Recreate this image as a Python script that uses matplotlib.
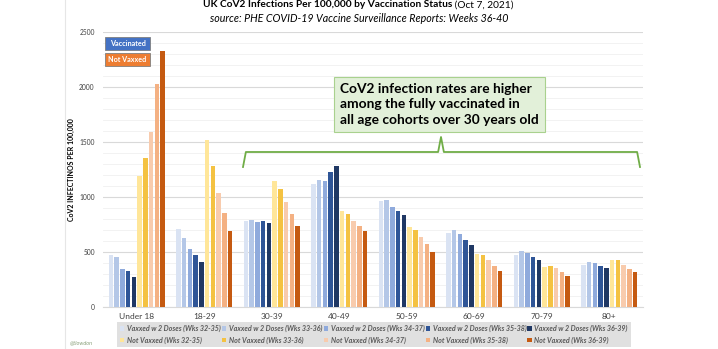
import numpy as np
import matplotlib.pyplot as plt
from matplotlib.patches import Rectangle
from matplotlib.lines import Line2D

# ---- data ----
ages = ["Under 18", "18-29", "30-39", "40-49", "50-59", "60-69", "70-79", "80+"]

vax_32_35 = [473, 712, 779, 1118, 962, 676, 479, 388]
vax_33_36 = [458, 630, 794, 1157, 973, 697, 512, 412]
vax_34_37 = [348, 530, 776, 1148, 912, 664, 494, 403]
vax_35_38 = [330, 473, 782, 1227, 871, 612, 458, 379]
vax_36_39 = [279, 409, 764, 1282, 838, 564, 427, 355]

unvax_32_35 = [1191, 1518, 1143, 878, 727, 485, 367, 430]
unvax_33_36 = [1358, 1282, 1073, 851, 700, 479, 373, 427]
unvax_34_37 = [1588, 1036, 952, 784, 635, 430, 358, 385]
unvax_35_38 = [2027, 858, 851, 739, 573, 376, 318, 351]
unvax_36_39 = [2321, 688, 739, 691, 502, 333, 282, 318]

vax_labels = ["Vaxxed w 2 Doses (Wks 32-35)", "Vaxxed w 2 Doses (Wks 33-36)",
              "Vaxxed w 2 Doses (Wks 34-37)", "Vaxxed w 2 Doses (Wks 35-38)",
              "Vaxxed w 2 Doses (Wks 36-39)"]
unvax_labels = ["Not Vaxxed (Wks 32-35)", "Not Vaxxed (Wks 33-36)",
                "Not Vaxxed (Wks 34-37)", "Not Vaxxed (Wks 35-38)",
                "Not Vaxxed (Wks 36-39)"]

vax_colors = ["#dae3f3", "#b4c7e7", "#8faadc", "#2f5597", "#203864"]
unvax_colors = ["#ffe699", "#f4c242", "#f8cbad", "#f4b183", "#c55a11"]

series = [vax_32_35, vax_33_36, vax_34_37, vax_35_38, vax_36_39,
          unvax_32_35, unvax_33_36, unvax_34_37, unvax_35_38, unvax_36_39]
labels = vax_labels + unvax_labels
colors = vax_colors + unvax_colors

plt.rcParams['font.family'] = ['Lato', 'DejaVu Sans']

fig = plt.figure(figsize=(7.18, 3.49), dpi=100)
ax = fig.add_axes([0.1435, 0.1195, 0.752, 0.7895])

x = np.arange(len(ages))
slot = 0.085
bw = 0.066
handles = []
for i, (vals, lab, col) in enumerate(zip(series, labels, colors)):
    off = (i - 4.5) * slot
    b = ax.bar(x + off, vals, width=bw, color=col, label=lab, zorder=3)
    handles.append(b)

ax.set_xlim(-0.5, len(ages) - 0.5)
ax.set_ylim(0, 2500)
ax.set_yticks(np.arange(0, 2501, 500))
ax.set_yticks(np.arange(0, 2501, 100), minor=True)
ax.grid(axis='y', which='major', color='#d9d9d9', lw=0.8, zorder=0)
ax.grid(axis='y', which='minor', color='#f0f0f0', lw=0.6, zorder=0)
ax.set_xticks(x)
ax.set_xticklabels(ages, fontsize=6, color='#404040')
ax.tick_params(axis='y', which='both', length=0, labelsize=4.8, labelcolor='#404040', pad=6)
ax.tick_params(axis='x', length=0, pad=4)
for s in ['top', 'right', 'left']:
    ax.spines[s].set_visible(False)
ax.spines['bottom'].set_color('#d9d9d9')
ax.set_ylabel("CoV2 INFECTINOS PER 100,000", fontsize=5, fontweight='bold', labelpad=3)

# titles (bold part + plain part)
fig.text(452 / 718, 0.986, "UK CoV2 Infections Per 100,000 by Vaccination Status",
         ha='right', va='center', fontsize=7.3, fontweight='bold')
fig.text(452 / 718, 0.986, " (Oct 7, 2021)", ha='left', va='center', fontsize=7.3)
fig.text(359 / 718, 0.948, "source: PHE COVID-19 Vaccine Surveillance Reports: Weeks 36-40",
         ha='center', va='center', fontsize=7.7, style='italic')

# colour key boxes top-left
for y0, txt, col in [(0.857, "Vaccinated", "#4472c4"), (0.812, "Not Vaxxed", "#ed7d31")]:
    fig.patches.append(Rectangle((0.1465, y0), 0.0625, 0.037, transform=fig.transFigure,
                                 facecolor=col, edgecolor='#7f7f7f', lw=0.6))
    fig.text(0.1777, y0 + 0.0185, txt, ha='center', va='center', fontsize=5.2,
             color='white', fontweight='bold')

# annotation box
fig.text(0.474, 0.701, "CoV2 infection rates are higher\namong the fully vaccinated in\nall age cohorts over 30 years old",
         ha='left', va='center', fontsize=9.9, fontweight='bold', linespacing=1.35,
         bbox=dict(boxstyle='square,pad=0.45', facecolor='#e2f0d9', edgecolor='#a9d18e', lw=0.8))

# green brace
bx0, bx1, bxm = 243 / 718, 640 / 718, 441 / 718
yh, ye, yt = 1 - 152 / 349, 1 - 167 / 349, 1 - 137 / 349
green = '#70ad47'
fig.lines.append(Line2D([bx0, bx0 + 0.004, bxm - 0.004, bxm, bxm + 0.004, bx1 - 0.004, bx1],
                        [ye, yh, yh, yt, yh, yh, ye],
                        transform=fig.transFigure, color=green, lw=1.3))

# bottom legend: vaccinated on row 1, not vaxxed on row 2
order = []
for i in range(5):
    order += [handles[i], handles[i + 5]]
leg = fig.legend(order, [h.get_label() for h in order], ncol=5, loc='upper left',
                 bbox_to_anchor=(117 / 718, 1 - 322 / 349), fontsize=5.1, frameon=True,
                 handlelength=0.6, handleheight=0.6, handletextpad=0.4,
                 columnspacing=0.15, labelspacing=0.55, borderpad=0.45, borderaxespad=0)
leg.get_frame().set_facecolor('#d9d9d9')
leg.get_frame().set_edgecolor('none')
leg.get_frame().set_boxstyle('square,pad=0')
for t in leg.get_texts():
    t.set_style('italic')
    t.set_fontweight('bold')
    t.set_color('#595959')

# slide border and handle
fig.lines.append(Line2D([65 / 718, 65 / 718], [0, 1], transform=fig.transFigure,
                        color='#e6e6e6', lw=0.8))
fig.text(70 / 718, 0.01, "@tlowdon", fontsize=4, color='#8aa07a', style='italic', va='bottom')

fig.savefig("out.png", dpi=100)
